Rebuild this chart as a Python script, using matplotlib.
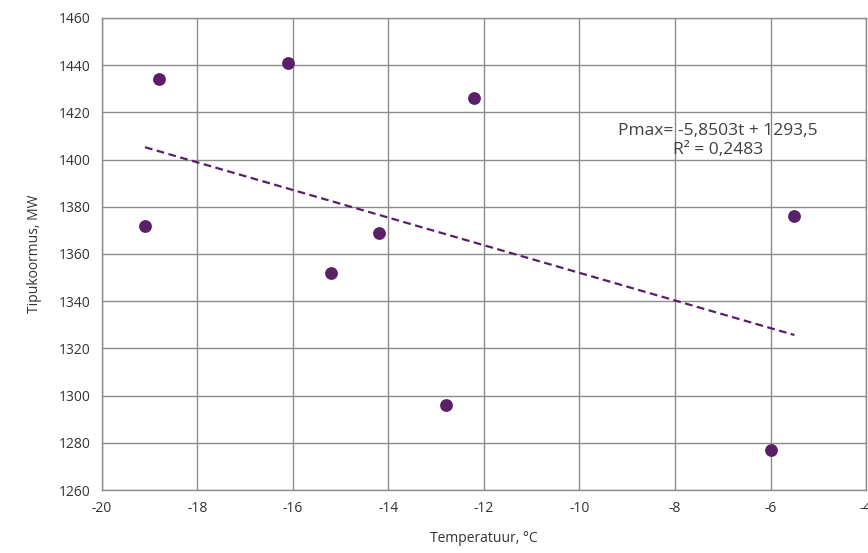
import numpy as np
import matplotlib
matplotlib.use("Agg")
import matplotlib.pyplot as plt

# Measured points: temperature (°C) vs peak load (MW)
temperature = [-19.1, -18.8, -16.1, -15.2, -14.2, -12.8, -12.2, -6.0, -5.5]
peak_load = [1372, 1434, 1441, 1352, 1369, 1296, 1426, 1277, 1376]

# Linear trend as printed on the chart
trend_slope = -5.8503
trend_intercept = 1293.5
trend_label = "Pmax= -5,8503t + 1293,5\nR² = 0,2483"

x_ticks = [-20, -18, -16, -14, -12, -10, -8, -6, -4]
y_ticks = [1260, 1280, 1300, 1320, 1340, 1360, 1380, 1400, 1420, 1440, 1460]

plt.rcParams["font.family"] = ["Open Sans", "DejaVu Sans"]

fig = plt.figure(figsize=(8.68, 5.53), dpi=100)
ax = fig.add_axes([0.1175, 0.1139, 0.8802, 0.8536])

purple = "#5b1f6a"
ax.scatter(temperature, peak_load, s=85, color=purple, zorder=3, linewidths=0)

# Trend line across the measured temperature range
t = np.array([min(temperature), max(temperature)])
ax.plot(t, trend_slope * t + trend_intercept, linestyle=(0, (3.5, 2)),
        color=purple, linewidth=1.6, zorder=2)

ax.text(-7.1, 1400.5, trend_label, ha="center", va="bottom",
        fontsize=12.5, color="#404040", linespacing=1.3)

ax.set_xlim(-20, -4)
ax.set_ylim(1260, 1460)
ax.set_xticks(x_ticks)
ax.set_yticks(y_ticks)
ax.set_xticklabels([str(v) for v in x_ticks])
ax.grid(True, color="#8c8c8c", linewidth=1)
ax.set_axisbelow(True)
for s in ax.spines.values():
    s.set_color("#8c8c8c")
    s.set_linewidth(1)
ax.tick_params(length=0, labelsize=10, colors="#333333", pad=8)

ax.set_xlabel("Temperatuur, °C", fontsize=10, color="#333333", labelpad=11)
ax.set_ylabel("Tipukoormus, MW", fontsize=10, color="#333333", labelpad=12)

fig.savefig("out.png", dpi=100)
